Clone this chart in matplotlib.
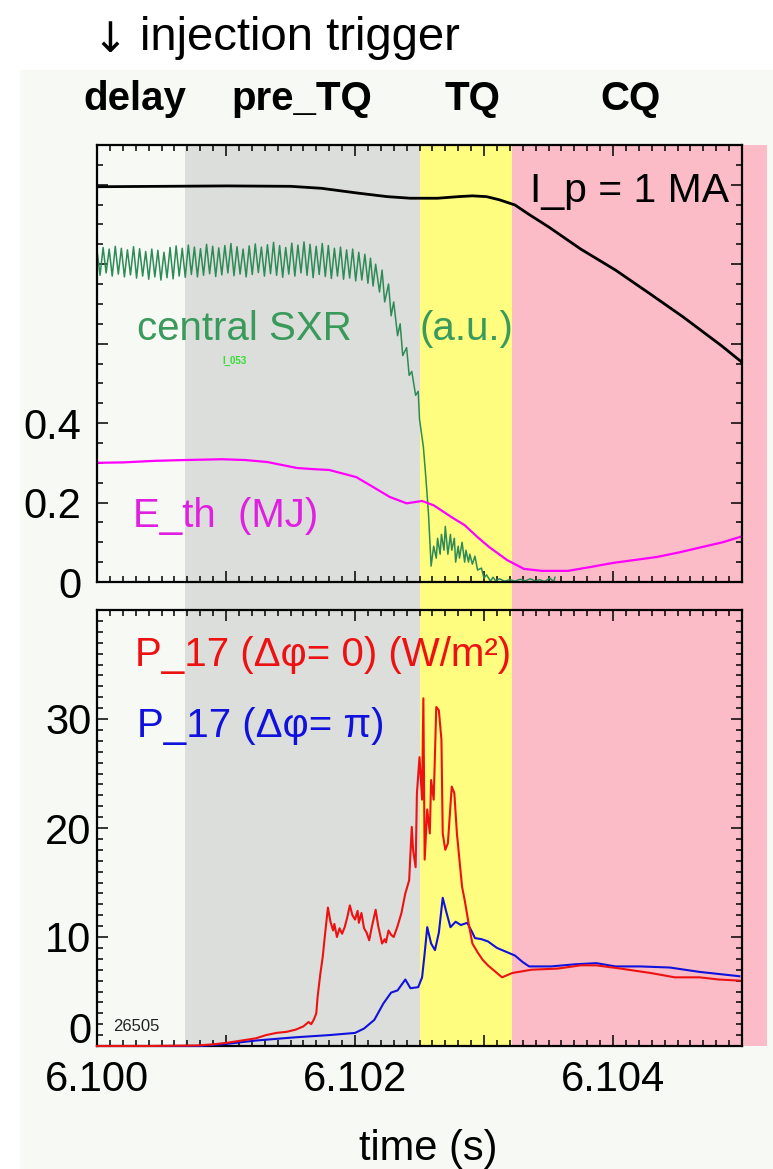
import matplotlib
matplotlib.use('Agg')
import matplotlib.pyplot as plt
import numpy as np
from matplotlib.patches import Rectangle
from matplotlib.ticker import MultipleLocator

plt.rcParams['font.family'] = ['Liberation Sans', 'DejaVu Sans']

# ---- phases of the disruption (time in s) ----
phase_names = ['delay', 'pre_TQ', 'TQ', 'CQ']
phase_label_x = [6.10029, 6.10159, 6.10291, 6.10414]
phase_edges = [6.10000, 6.10068, 6.10250, 6.10322, 6.10519]
phase_colors = ['none', '#dcdedb', '#fefd80', '#fbbcc8']

# ---- plasma current, normalised (1 MA) ----
ip_t = [6.10001, 6.10101, 6.10150, 6.10174, 6.10202, 6.10225, 6.10243, 6.10264,
        6.10280, 6.10291, 6.10302, 6.10312, 6.10324, 6.10335, 6.10350, 6.10375,
        6.10402, 6.10428, 6.10454, 6.10484, 6.10500]
ip_v = [0.995, 0.997, 0.996, 0.991, 0.979, 0.970, 0.966, 0.966,
        0.970, 0.972, 0.970, 0.962, 0.949, 0.925, 0.894, 0.838,
        0.785, 0.727, 0.668, 0.595, 0.553]

# ---- central SXR (a.u.): sawtooth-like ripple, peaks and troughs ----
sxr_peaks = [0.835, 0.842, 0.838, 0.845, 0.840, 0.836, 0.844, 0.839, 0.832, 0.838,
             0.835, 0.830, 0.842, 0.846, 0.840, 0.848, 0.843, 0.839, 0.850, 0.845,
             0.841, 0.847, 0.852, 0.844, 0.838, 0.846, 0.851, 0.843, 0.849, 0.855,
             0.847, 0.842, 0.853, 0.848, 0.856, 0.850, 0.845, 0.852, 0.847, 0.840,
             0.843, 0.836, 0.838, 0.830, 0.825]
sxr_troughs = [0.772, 0.778, 0.770, 0.775, 0.768, 0.773, 0.765, 0.770, 0.762, 0.768,
               0.760, 0.766, 0.763, 0.770, 0.767, 0.774, 0.768, 0.772, 0.776, 0.769,
               0.773, 0.778, 0.771, 0.775, 0.768, 0.774, 0.779, 0.770, 0.776, 0.772,
               0.767, 0.775, 0.770, 0.778, 0.772, 0.766, 0.774, 0.769, 0.764, 0.770,
               0.762, 0.765, 0.758, 0.760, 0.752]
sxr_drop_t = [6.10212, 6.10214, 6.10216, 6.10219, 6.10221, 6.10223, 6.10226, 6.10228,
              6.10230, 6.10233, 6.10235, 6.10237, 6.10240, 6.10242, 6.10244, 6.10247,
              6.10249, 6.10250, 6.10253, 6.10255, 6.10257, 6.10259, 6.10261, 6.10263,
              6.10264, 6.10266, 6.10267, 6.10269, 6.10270, 6.10272, 6.10274, 6.10275,
              6.10277, 6.10278, 6.10280, 6.10281, 6.10283, 6.10285, 6.10286, 6.10288,
              6.10289, 6.10291, 6.10293, 6.10295, 6.10298, 6.10300, 6.10302, 6.10305,
              6.10307, 6.10309, 6.10312, 6.10316, 6.10320, 6.10324, 6.10328, 6.10332,
              6.10336, 6.10340, 6.10343, 6.10347, 6.10351, 6.10354, 6.10355]
sxr_drop_v = [0.815, 0.745, 0.800, 0.730, 0.785, 0.705, 0.750, 0.670,
              0.705, 0.620, 0.650, 0.570, 0.590, 0.520, 0.530, 0.470,
              0.480, 0.410, 0.340, 0.260, 0.170, 0.040, 0.090, 0.060,
              0.110, 0.070, 0.120, 0.080, 0.140, 0.070, 0.120, 0.080,
              0.110, 0.050, 0.090, 0.060, 0.100, 0.050, 0.080, 0.050,
              0.070, 0.045, 0.065, 0.030, 0.035, 0.010, 0.018, 0.002,
              0.012, 0.003, 0.008, 0.002, 0.006, 0.002, 0.007, 0.003,
              0.008, 0.002, 0.006, 0.001, 0.010, 0.001, 0.012]

# ---- thermal energy (MJ) ----
eth_t = [6.10000, 6.10020, 6.10045, 6.10068, 6.10097, 6.10115, 6.10132, 6.10155,
         6.10168, 6.10180, 6.10201, 6.10212, 6.10227, 6.10240, 6.10252, 6.10261,
         6.10275, 6.10285, 6.10295, 6.10304, 6.10318, 6.10331, 6.10345, 6.10365,
         6.10383, 6.10400, 6.10434, 6.10452, 6.10469, 6.10485, 6.10500]
eth_v = [0.300, 0.301, 0.305, 0.307, 0.309, 0.307, 0.302, 0.287,
         0.284, 0.282, 0.264, 0.243, 0.214, 0.198, 0.204, 0.193,
         0.163, 0.143, 0.113, 0.088, 0.055, 0.033, 0.028, 0.028,
         0.038, 0.048, 0.063, 0.075, 0.088, 0.100, 0.115]

# ---- radiated power P_17 (W/m^2), toroidal separation 0 and pi ----
p0_t = [6.10000, 6.10040, 6.10078, 6.10090, 6.10101, 6.10112, 6.10123, 6.10131,
        6.10139, 6.10147, 6.10154, 6.10160, 6.10164, 6.10166, 6.10168, 6.10170,
        6.10171, 6.10173, 6.10175, 6.10177, 6.10179, 6.10181, 6.10183, 6.10184,
        6.10186, 6.10188, 6.10190, 6.10192, 6.10194, 6.10196, 6.10198, 6.10200,
        6.10202, 6.10203, 6.10205, 6.10207, 6.10209, 6.10211, 6.10213, 6.10216,
        6.10218, 6.10221, 6.10223, 6.10224, 6.10226, 6.10228, 6.10230, 6.10233,
        6.10236, 6.10239, 6.10242, 6.10243, 6.10244, 6.10245, 6.10247, 6.10248,
        6.10250, 6.10252, 6.10253, 6.10254, 6.10256, 6.10258, 6.10259, 6.10261,
        6.10263, 6.10265, 6.10267, 6.10268, 6.10270, 6.10272, 6.10275, 6.10277,
        6.10279, 6.10283, 6.10285, 6.10288, 6.10291, 6.10295, 6.10299, 6.10303,
        6.10307, 6.10314, 6.10322, 6.10337, 6.10357, 6.10375, 6.10387, 6.10406,
        6.10429, 6.10448, 6.10467, 6.10482, 6.10498]
p0_v = [0.0, 0.0, 0.05, 0.15, 0.3, 0.5, 0.7, 1.0,
        1.2, 1.3, 1.5, 1.8, 2.2, 2.0, 2.4, 3.0,
        4.5, 6.5, 8.2, 10.5, 12.7, 11.4, 10.6, 11.2,
        10.0, 10.8, 10.3, 10.9, 11.8, 12.9, 12.0, 11.6,
        12.4, 11.3, 12.2, 10.8, 10.4, 9.7, 10.9, 12.5,
        11.0, 9.4, 9.8, 9.5, 10.6, 10.2, 10.0, 11.0,
        12.2, 14.0, 15.2, 17.7, 20.1, 18.0, 16.4, 23.2,
        26.5, 22.6, 31.9, 17.1, 21.7, 19.5, 24.4, 22.6,
        31.1, 30.8, 28.1, 19.5, 18.0, 18.6, 23.8, 23.2,
        19.5, 14.6, 13.4, 11.3, 9.4, 8.6, 7.9, 7.4,
        7.0, 6.3, 6.7, 7.0, 7.1, 7.4, 7.4, 7.1,
        6.7, 6.3, 6.3, 6.1, 6.0]
ppi_t = [6.10000, 6.10080, 6.10101, 6.10123, 6.10154, 6.10180, 6.10200, 6.10207,
         6.10215, 6.10222, 6.10228, 6.10233, 6.10236, 6.10239, 6.10243, 6.10249,
         6.10252, 6.10254, 6.10256, 6.10259, 6.10262, 6.10265, 6.10268, 6.10271,
         6.10274, 6.10278, 6.10282, 6.10287, 6.10291, 6.10293, 6.10298, 6.10303,
         6.10310, 6.10316, 6.10324, 6.10330, 6.10335, 6.10352, 6.10371, 6.10387,
         6.10402, 6.10421, 6.10444, 6.10467, 6.10498]
ppi_v = [0.0, 0.0, 0.2, 0.5, 0.8, 1.0, 1.2, 1.6,
         2.4, 3.9, 4.9, 5.1, 5.6, 6.1, 5.3, 5.4,
         6.3, 8.5, 10.9, 9.4, 8.8, 10.4, 13.6, 12.2,
         10.9, 11.4, 11.1, 11.3, 10.4, 9.9, 9.8, 9.6,
         9.0, 8.7, 8.3, 7.7, 7.3, 7.3, 7.5, 7.6,
         7.3, 7.3, 7.2, 6.8, 6.4]

x_ticks = [6.100, 6.101, 6.102, 6.103, 6.104, 6.105]
x_ticklabels = ['6.100', '', '6.102', '', '6.104', '']
top_yticks = [0.0, 0.2, 0.4, 0.6, 0.8, 1.0]
top_yticklabels = ['0', '0.2', '0.4', '', '', '']
bot_yticks = [0, 10, 20, 30]
bot_yticklabels = ['', '10', '20', '30']

W, H = 773, 1169


def frac(x0, y0, x1, y1):
    # pixel box (top-left origin) -> figure fraction rect
    return [x0 / W, 1 - y1 / H, (x1 - x0) / W, (y1 - y0) / H]


def fig_text(x, y, s, **kw):
    fig.text(x / W, 1 - y / H, s, **kw)


fig = plt.figure(figsize=(W / 100, H / 100), dpi=100)
fig.patches.append(Rectangle((20 / W, 0), 1, 1 - 70 / H, transform=fig.transFigure,
                             facecolor='#f6f9f4', edgecolor='none', zorder=-10))

# shaded phases behind both panels (the CQ band runs past the right axis)
bg_right = 97 + 645 * (phase_edges[-1] - 6.100) / 0.005
bg = fig.add_axes(frac(97, 145, bg_right, 1046), zorder=0)
bg.set_xlim(phase_edges[0], phase_edges[-1])
bg.set_ylim(0, 1)
bg.axis('off')
for lo, hi, c in zip(phase_edges[:-1], phase_edges[1:], phase_colors):
    if c != 'none':
        bg.axvspan(lo, hi, color=c, lw=0)

ax1 = fig.add_axes(frac(97, 145, 742, 582), zorder=1)
ax2 = fig.add_axes(frac(97, 610, 742, 1046), zorder=1)

for ax in (ax1, ax2):
    ax.set_facecolor('none')
    ax.set_xlim(6.100, 6.105)
    ax.set_xticks(x_ticks)
    ax.xaxis.set_minor_locator(MultipleLocator(0.0001))
    ax.tick_params(which='both', direction='in', top=True, right=True, width=1.1)
    ax.tick_params(which='major', length=8, labelsize=30)
    ax.tick_params(which='minor', length=4)
    for s in ax.spines.values():
        s.set_linewidth(1.6)

# upper panel
sxr_t = np.concatenate([np.linspace(6.1000, 6.1021, 2 * len(sxr_peaks)), sxr_drop_t])
sxr_v = np.concatenate([np.column_stack([sxr_peaks, sxr_troughs]).ravel(), sxr_drop_v])
ax1.plot(sxr_t, sxr_v, color='#2e8b57', lw=1.1)
ax1.plot(ip_t, ip_v, color='black', lw=2.0)
ax1.plot(eth_t, eth_v, color='#ff00ff', lw=1.6)
ax1.set_ylim(0, 1.1)
ax1.set_yticks(top_yticks, top_yticklabels)
ax1.yaxis.set_minor_locator(MultipleLocator(0.05))
ax1.tick_params(axis='y', pad=11)
ax1.tick_params(labelbottom=False)

# lower panel
ax2.plot(ppi_t, ppi_v, color='#1111dd', lw=1.5, clip_on=False, zorder=3)
ax2.plot(p0_t, p0_v, color='#ee1111', lw=1.5, clip_on=False, zorder=3)
ax2.set_ylim(0, 40)
ax2.set_yticks(bot_yticks, bot_yticklabels)
ax2.yaxis.set_minor_locator(MultipleLocator(1))
ax2.tick_params(axis='y', pad=4)
ax2.tick_params(axis='x', pad=10)
ax2.set_xticklabels(x_ticklabels)
ax2.annotate('0', xy=(0, 0), xycoords=ax2.get_yaxis_transform(), xytext=(-4, 10),
             textcoords='offset points', ha='right', va='center', fontsize=30)

# labels
fig_text(92, 52, '\u2193', fontsize=30, va='baseline', family='DejaVu Sans')
fig_text(140, 50, 'injection trigger', fontsize=34, va='baseline')
for name, t in zip(phase_names, phase_label_x):
    fig_text(97 + 645 * (t - 6.100) / 0.005, 110, name, fontsize=29,
             fontweight='bold', ha='center', va='baseline')
fig_text(729, 202, 'I_p = 1 MA', fontsize=29.5, ha='right', va='baseline')
fig_text(137, 340, 'central SXR', fontsize=29, color='#3a9a5c', va='baseline')
fig_text(420, 340, '(a.u.)', fontsize=29, color='#3a9a5c', va='baseline')
fig_text(222, 364, 'I_053', fontsize=7, color='#33dd33', fontweight='bold', va='baseline')
fig_text(133, 527, 'E_th  (MJ)', fontsize=29, color='#e020e0', va='baseline')
fig_text(135, 666, 'P_17 (\u0394\u03c6= 0) (W/m\u00b2)', fontsize=29, color='#ee1111',
         va='baseline')
fig_text(137, 737, 'P_17 (\u0394\u03c6= \u03c0)', fontsize=29, color='#1111dd', va='baseline')
fig_text(113, 1031, '26505', fontsize=12, color='#222222', va='baseline')
fig_text(428, 1160, 'time (s)', fontsize=30, ha='center', va='baseline')

fig.savefig('out.png', dpi=100)
